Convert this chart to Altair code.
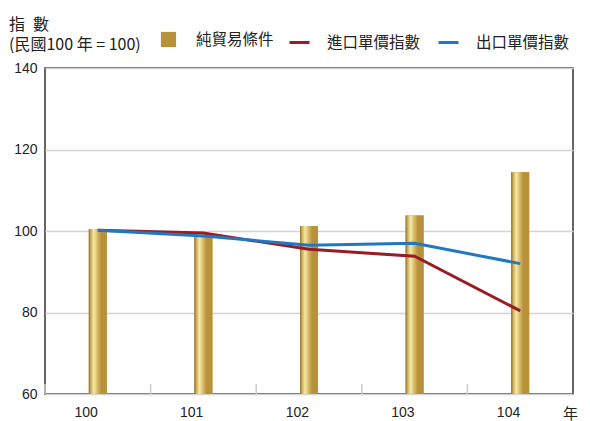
import altair as alt
import pandas as pd

years = ["100", "101", "102", "103", "104"]
terms_of_trade = [100.5, 99.5, 101.2, 103.8, 114.4]
import_index = [100.2, 99.5, 95.5, 93.8, 80.4]
export_index = [100.2, 98.8, 96.5, 97.0, 92.0]

bar_name = "純貿易條件"
line_names = ["進口單價指數", "出口單價指數"]

bars_df = pd.DataFrame({"year": years, "value": terms_of_trade, "series": bar_name})
lines_df = pd.DataFrame({
    "year": years * 2,
    "value": import_index + export_index,
    "series": [line_names[0]] * 5 + [line_names[1]] * 5,
})

CJK = "Noto Sans CJK TC"
NUM = "Liberation Sans"
W, H = 528, 326

x_enc = alt.X(
    "year:O",
    sort=years,
    scale=alt.Scale(paddingInner=0, paddingOuter=0),
    axis=alt.Axis(
        title="年", titleFont=CJK, titleFontSize=15, titleFontWeight="normal",
        titleAngle=0, titleAlign="center", titleBaseline="middle",
        titleX=W - 3, titleY=19, titleColor="#222",
        labelFont=NUM, labelFontSize=14, labelColor="#222", labelPadding=18,
        labelAngle=0, ticks=False, domain=False, grid=False,
    ),
)
y_scale = alt.Scale(domain=[60, 140], nice=False, zero=False)
y_enc = alt.Y(
    "value:Q",
    scale=y_scale,
    axis=alt.Axis(
        title=None, values=[60, 80, 100, 120, 140], labelFont=NUM, labelFontSize=14,
        labelColor="#222", labelPadding=8, ticks=False, domain=False,
        grid=True, gridColor="#d3d3d3", gridWidth=1.5,
    ),
)

gradient = alt.Gradient(
    gradient="linear",
    x1=0, x2=1, y1=0, y2=0,
    stops=[
        alt.GradientStop(offset=0, color="#8f6f2c"),
        alt.GradientStop(offset=0.12, color="#cfb060"),
        alt.GradientStop(offset=0.28, color="#f6e9a4"),
        alt.GradientStop(offset=0.48, color="#d6b866"),
        alt.GradientStop(offset=0.68, color="#b8923a"),
        alt.GradientStop(offset=1, color="#b8923a"),
    ],
)

bar_legend = alt.Legend(
    title=None, orient="none", legendX=115, legendY=-37, padding=0,
    symbolType="square", symbolSize=230, labelFont=CJK, labelFontSize=15.5,
    labelColor="#222", labelOffset=19,
)
line_legend = alt.Legend(
    title=None, orient="none", legendX=243, legendY=-37, padding=0,
    direction="horizontal", symbolType="stroke", symbolSize=400,
    symbolStrokeWidth=3, labelFont=CJK, labelFontSize=15.5, labelColor="#222",
    labelOffset=16, columnPadding=11,
)

bars_base = alt.Chart(bars_df).mark_bar(size=18, clip=True).encode(
    x=x_enc, y=y_enc, y2=alt.datum(60),
    color=alt.Color("series:N", scale=alt.Scale(domain=[bar_name], range=["#b8923a"]), legend=bar_legend),
)
bars_grad = alt.Chart(bars_df).mark_bar(size=18, color=gradient, clip=True).encode(
    x=alt.X("year:O", sort=years), y=alt.Y("value:Q"), y2=alt.datum(60),
)
ticks = alt.Chart(bars_df).mark_rule(color="#cccccc", strokeWidth=1.5).encode(
    x=alt.X("year:O", sort=years, bandPosition=0),
    y=alt.value(H - 10), y2=alt.value(H),
)
lines = alt.Chart(lines_df).mark_line(strokeWidth=3).encode(
    x=alt.X("year:O", sort=years), y=alt.Y("value:Q"),
    color=alt.Color(
        "series:N",
        scale=alt.Scale(domain=line_names, range=["#9b1b24", "#1f78c1"]),
        legend=line_legend,
    ),
)

chart = alt.layer(ticks, bars_base, bars_grad, lines).resolve_scale(color="independent").properties(
    width=W, height=H,
    autosize=alt.AutoSizeParams(type="none"),
    padding={"left": 37, "top": 60, "right": 9, "bottom": 34},
    title=alt.TitleParams(
        text="\u2002\u2009指\u2002數", subtitle="(民國100 年 = 100)",
        anchor="start", frame="group", dx=-36, offset=-22,
        font=CJK, fontSize=16, fontWeight="normal", color="#222",
        subtitleFont=CJK, subtitleFontSize=16, subtitleColor="#222", subtitlePadding=4,
    ),
).configure_view(stroke="#333333", strokeWidth=1.5)

chart.save("out.html", embed_options={"renderer": "svg", "actions": False})
